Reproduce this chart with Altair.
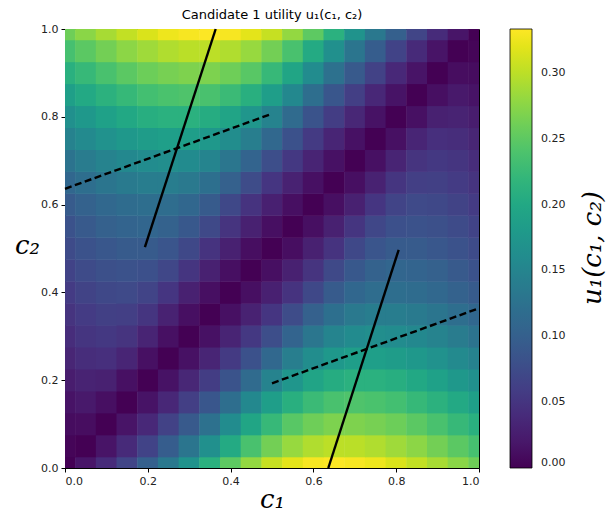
import altair as alt
import pandas as pd

# grid positions (c1 and c2) of the sampled utility values
grid = [0.00, 0.05, 0.10, 0.15, 0.20, 0.25, 0.30, 0.35, 0.40, 0.45, 0.50,
        0.55, 0.60, 0.65, 0.70, 0.75, 0.80, 0.85, 0.90, 0.95, 1.00]

# utility u1(c1, c2), one row per c2 value (c1 = 0 .. 1)
u_c2_100 = [0.260, 0.275, 0.290, 0.303, 0.315, 0.325, 0.330, 0.333, 0.330, 0.320, 0.305, 0.280, 0.250, 0.212, 0.170, 0.133, 0.100, 0.068, 0.040, 0.018, 0.000]
u_c2_095 = [0.235, 0.249, 0.263, 0.276, 0.286, 0.294, 0.299, 0.300, 0.294, 0.282, 0.263, 0.237, 0.203, 0.165, 0.129, 0.097, 0.066, 0.039, 0.017, 0.000, 0.003]
u_c2_090 = [0.211, 0.224, 0.237, 0.249, 0.259, 0.265, 0.269, 0.268, 0.260, 0.247, 0.224, 0.196, 0.160, 0.124, 0.093, 0.064, 0.037, 0.017, 0.000, 0.010, 0.009]
u_c2_085 = [0.188, 0.201, 0.213, 0.223, 0.233, 0.238, 0.241, 0.237, 0.227, 0.210, 0.186, 0.155, 0.120, 0.089, 0.061, 0.036, 0.016, 0.000, 0.012, 0.021, 0.016]
u_c2_080 = [0.166, 0.178, 0.190, 0.200, 0.208, 0.212, 0.212, 0.206, 0.195, 0.174, 0.148, 0.115, 0.085, 0.059, 0.035, 0.015, 0.000, 0.013, 0.029, 0.031, 0.025]
u_c2_075 = [0.146, 0.158, 0.168, 0.177, 0.184, 0.187, 0.186, 0.177, 0.162, 0.141, 0.111, 0.082, 0.056, 0.033, 0.014, 0.000, 0.013, 0.033, 0.044, 0.042, 0.034]
u_c2_070 = [0.127, 0.138, 0.148, 0.156, 0.161, 0.163, 0.159, 0.149, 0.131, 0.106, 0.078, 0.054, 0.032, 0.014, 0.000, 0.013, 0.032, 0.049, 0.054, 0.050, 0.042]
u_c2_065 = [0.110, 0.119, 0.129, 0.136, 0.140, 0.140, 0.134, 0.121, 0.101, 0.075, 0.051, 0.030, 0.013, 0.000, 0.012, 0.030, 0.050, 0.061, 0.062, 0.057, 0.049]
u_c2_060 = [0.094, 0.103, 0.111, 0.117, 0.120, 0.118, 0.110, 0.094, 0.071, 0.048, 0.028, 0.012, 0.000, 0.012, 0.029, 0.051, 0.067, 0.073, 0.071, 0.065, 0.057]
u_c2_055 = [0.084, 0.093, 0.101, 0.106, 0.108, 0.103, 0.091, 0.072, 0.049, 0.029, 0.012, 0.000, 0.012, 0.029, 0.050, 0.070, 0.081, 0.084, 0.080, 0.074, 0.066]
u_c2_050 = [0.074, 0.083, 0.090, 0.094, 0.094, 0.087, 0.071, 0.048, 0.029, 0.011, 0.000, 0.011, 0.029, 0.048, 0.071, 0.087, 0.094, 0.094, 0.090, 0.083, 0.074]
u_c2_045 = [0.066, 0.074, 0.080, 0.084, 0.081, 0.070, 0.050, 0.029, 0.012, 0.000, 0.012, 0.029, 0.049, 0.072, 0.091, 0.103, 0.108, 0.106, 0.101, 0.093, 0.084]
u_c2_040 = [0.057, 0.065, 0.071, 0.073, 0.067, 0.051, 0.029, 0.012, 0.000, 0.012, 0.028, 0.048, 0.071, 0.094, 0.110, 0.118, 0.120, 0.117, 0.111, 0.103, 0.094]
u_c2_035 = [0.049, 0.057, 0.062, 0.061, 0.050, 0.030, 0.012, 0.000, 0.013, 0.030, 0.051, 0.075, 0.101, 0.121, 0.134, 0.140, 0.140, 0.136, 0.129, 0.119, 0.110]
u_c2_030 = [0.042, 0.050, 0.054, 0.049, 0.032, 0.013, 0.000, 0.014, 0.032, 0.054, 0.078, 0.106, 0.131, 0.149, 0.159, 0.163, 0.161, 0.156, 0.148, 0.138, 0.127]
u_c2_025 = [0.034, 0.042, 0.044, 0.033, 0.013, 0.000, 0.014, 0.033, 0.056, 0.082, 0.111, 0.141, 0.162, 0.177, 0.186, 0.187, 0.184, 0.177, 0.168, 0.158, 0.146]
u_c2_020 = [0.025, 0.031, 0.029, 0.013, 0.000, 0.015, 0.035, 0.059, 0.085, 0.115, 0.148, 0.174, 0.195, 0.206, 0.212, 0.212, 0.208, 0.200, 0.190, 0.178, 0.166]
u_c2_015 = [0.016, 0.021, 0.012, 0.000, 0.016, 0.036, 0.061, 0.089, 0.120, 0.155, 0.186, 0.210, 0.227, 0.237, 0.241, 0.238, 0.233, 0.223, 0.213, 0.201, 0.188]
u_c2_010 = [0.009, 0.010, 0.000, 0.017, 0.037, 0.064, 0.093, 0.124, 0.160, 0.196, 0.224, 0.247, 0.260, 0.268, 0.269, 0.265, 0.259, 0.249, 0.237, 0.224, 0.211]
u_c2_005 = [0.003, 0.000, 0.017, 0.039, 0.066, 0.097, 0.129, 0.165, 0.203, 0.237, 0.263, 0.282, 0.294, 0.300, 0.299, 0.294, 0.286, 0.276, 0.263, 0.249, 0.235]
u_c2_000 = [0.000, 0.018, 0.040, 0.068, 0.100, 0.133, 0.170, 0.212, 0.250, 0.280, 0.305, 0.320, 0.330, 0.333, 0.330, 0.325, 0.315, 0.303, 0.290, 0.275, 0.260]

rows = [u_c2_000, u_c2_005, u_c2_010, u_c2_015, u_c2_020, u_c2_025, u_c2_030,
        u_c2_035, u_c2_040, u_c2_045, u_c2_050, u_c2_055, u_c2_060, u_c2_065,
        u_c2_070, u_c2_075, u_c2_080, u_c2_085, u_c2_090, u_c2_095, u_c2_100]

# best-response segments (c1, c2 end points)
solid_upper_c1 = [0.193, 0.364]
solid_upper_c2 = [0.503, 1.000]
solid_lower_c1 = [0.636, 0.806]
solid_lower_c2 = [0.000, 0.497]
dashed_upper_c1 = [0.000, 0.500]
dashed_upper_c2 = [0.636, 0.807]
dashed_lower_c1 = [0.500, 1.000]
dashed_lower_c2 = [0.193, 0.364]

half = 0.0256
recs = []
for j, c2 in enumerate(grid):
    for i, c1 in enumerate(grid):
        recs.append({"x": max(0.0, c1 - half), "x2": min(1.0, c1 + half),
                     "y": max(0.0, c2 - half), "y2": min(1.0, c2 + half),
                     "u": rows[j][i]})
heat_df = pd.DataFrame(recs)

seg = []
for name, xs, ys, kind in [("s1", solid_upper_c1, solid_upper_c2, "solid"),
                           ("s2", solid_lower_c1, solid_lower_c2, "solid"),
                           ("d1", dashed_upper_c1, dashed_upper_c2, "dashed"),
                           ("d2", dashed_lower_c1, dashed_lower_c2, "dashed")]:
    for k in range(2):
        seg.append({"seg": name, "kind": kind, "c1": xs[k], "c2": ys[k], "o": k})
seg_df = pd.DataFrame(seg)

W, H = 414, 439
xscale = alt.Scale(domain=[0, 1], nice=False, zero=False)
yscale = alt.Scale(domain=[0, 1], nice=False, zero=False)
cscale = alt.Scale(scheme="viridis", domain=[0, 0.3333])

xaxis = alt.Axis(values=[0, 0.2, 0.4, 0.6, 0.8, 1.0], format=".1f", title="c₁",
                 titleFont="DejaVu Serif", titleFontStyle="italic",
                 titleFontWeight="normal", titleFontSize=26, titlePadding=0,
                 grid=False)
yaxis = alt.Axis(values=[0, 0.2, 0.4, 0.6, 0.8, 1.0], format=".1f", title="c₂",
                 titleFont="DejaVu Serif", titleFontStyle="italic",
                 titleFontWeight="normal", titleFontSize=26, titleAngle=0,
                 titleAlign="center", titleBaseline="middle",
                 titleX=-38, titleY=216, grid=False)

heat = alt.Chart(heat_df).mark_rect().encode(
    x=alt.X("x:Q", scale=xscale, axis=xaxis),
    x2="x2:Q",
    y=alt.Y("y:Q", scale=yscale, axis=yaxis),
    y2="y2:Q",
    color=alt.Color("u:Q", scale=cscale,
                    legend=alt.Legend(type="gradient", title=None,
                                      values=[0, 0.05, 0.10, 0.15, 0.20, 0.25, 0.30],
                                      format=".2f", gradientLength=H,
                                      gradientThickness=22, offset=26, padding=0,
                                      labelFontSize=11, labelOffset=9,
                                      labelColor="#222222", labelFont="DejaVu Sans",
                                      gradientStrokeColor="black",
                                      gradientStrokeWidth=0.8)),
)

solid = alt.Chart(seg_df[seg_df.kind == "solid"]).mark_line(
    color="black", strokeWidth=2.4).encode(
    x=alt.X("c1:Q", scale=xscale),
    y=alt.Y("c2:Q", scale=yscale),
    detail="seg:N", order="o:Q")

dashed = alt.Chart(seg_df[seg_df.kind == "dashed"]).mark_line(
    color="black", strokeWidth=2.4, strokeDash=[7, 3.5]).encode(
    x=alt.X("c1:Q", scale=xscale),
    y=alt.Y("c2:Q", scale=yscale),
    detail="seg:N", order="o:Q")

cbar_title = alt.Chart(pd.DataFrame({"t": ["u₁(c₁, c₂)"]})).mark_text(
    angle=270, font="DejaVu Serif", fontStyle="italic", fontSize=26,
    align="center", baseline="middle", color="black").encode(
    x=alt.value(W + 114), y=alt.value(219), text="t:N")

chart = alt.layer(heat, solid, dashed, cbar_title).properties(
    width=W, height=H,
    title=alt.Title("Candidate 1 utility u₁(c₁, c₂)", fontSize=13,
                    font="DejaVu Sans", fontWeight="normal", color="black",
                    offset=1, anchor="middle", frame="group"),
    autosize=alt.AutoSizeParams(type="none"),
    padding={"left": 57, "top": 21, "right": 128, "bottom": 44},
).configure_view(stroke="black", strokeWidth=1).configure_axis(
    domainColor="black", tickColor="black", labelColor="#222222",
    labelFont="DejaVu Sans", labelFontSize=11, tickSize=4, titleColor="black",
    labelPadding=3,
)

chart.save("out.html", embed_options={"renderer": "svg", "actions": False})
